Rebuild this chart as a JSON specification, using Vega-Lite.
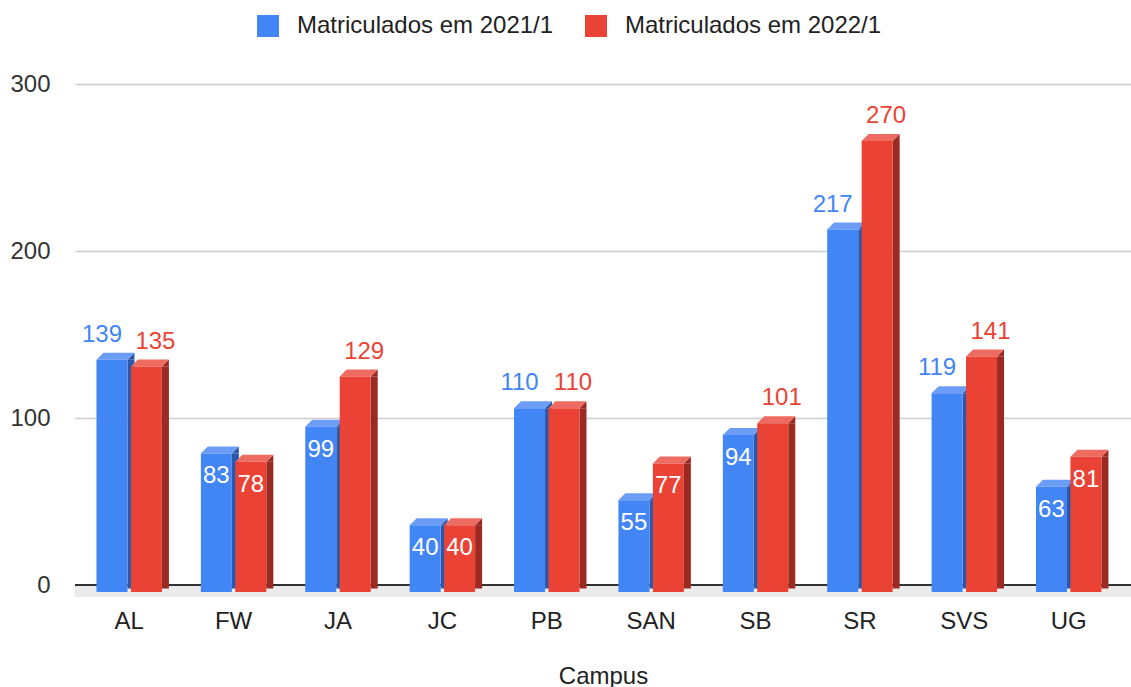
{
  "$schema": "https://vega.github.io/schema/vega-lite/v6.json",
  "width": 1056,
  "height": 501,
  "autosize": {"type": "none"},
  "padding": {"left": 75, "top": 84, "right": 0, "bottom": 102},
  "background": "white",
  "config": {
    "font": "Liberation Sans",
    "view": {"stroke": null},
    "axis": {"labelFont": "Liberation Sans", "titleFont": "Liberation Sans"},
    "legend": {"labelFont": "Liberation Sans"}
  },
  "data": {
    "values": [
      {"Campus": "AL", "series": "Matriculados em 2021/1", "value": 139},
      {"Campus": "AL", "series": "Matriculados em 2022/1", "value": 135},
      {"Campus": "FW", "series": "Matriculados em 2021/1", "value": 83},
      {"Campus": "FW", "series": "Matriculados em 2022/1", "value": 78},
      {"Campus": "JA", "series": "Matriculados em 2021/1", "value": 99},
      {"Campus": "JA", "series": "Matriculados em 2022/1", "value": 129},
      {"Campus": "JC", "series": "Matriculados em 2021/1", "value": 40},
      {"Campus": "JC", "series": "Matriculados em 2022/1", "value": 40},
      {"Campus": "PB", "series": "Matriculados em 2021/1", "value": 110},
      {"Campus": "PB", "series": "Matriculados em 2022/1", "value": 110},
      {"Campus": "SAN", "series": "Matriculados em 2021/1", "value": 55},
      {"Campus": "SAN", "series": "Matriculados em 2022/1", "value": 77},
      {"Campus": "SB", "series": "Matriculados em 2021/1", "value": 94},
      {"Campus": "SB", "series": "Matriculados em 2022/1", "value": 101},
      {"Campus": "SR", "series": "Matriculados em 2021/1", "value": 217},
      {"Campus": "SR", "series": "Matriculados em 2022/1", "value": 270},
      {"Campus": "SVS", "series": "Matriculados em 2021/1", "value": 119},
      {"Campus": "SVS", "series": "Matriculados em 2022/1", "value": 141},
      {"Campus": "UG", "series": "Matriculados em 2021/1", "value": 63},
      {"Campus": "UG", "series": "Matriculados em 2022/1", "value": 81}
    ]
  },
  "resolve": {"scale": {"xOffset": "independent"}},
  "encoding": {
    "x": {
      "field": "Campus",
      "type": "nominal",
      "sort": null,
      "scale": {"paddingInner": 0.34, "paddingOuter": 0.228, "align": 0.415},
      "axis": {
        "title": "Campus",
        "titleFontSize": 24,
        "titleFontWeight": "normal",
        "titleColor": "#222",
        "titleBaseline": "alphabetic",
        "titleY": 98,
        "labelFontSize": 24,
        "labelColor": "#222",
        "labelBaseline": "alphabetic",
        "labelPadding": 43,
        "labelAngle": 0,
        "domain": false,
        "ticks": false,
        "grid": false
      }
    },
    "y": {
      "field": "value",
      "type": "quantitative",
      "scale": {"domain": [0, 300], "nice": false},
      "axis": {
        "title": null,
        "values": [0, 100, 200, 300],
        "labelFontSize": 24,
        "labelColor": "#333",
        "labelPadding": 25,
        "domain": false,
        "ticks": false,
        "grid": true,
        "gridColor": "#cccccc",
        "gridWidth": 1.5
      }
    }
  },
  "layer": [
    {
      "mark": {"type": "rect", "color": "#ebebeb", "y2Offset": 12},
      "encoding": {"x": null, "y": {"datum": 0, "type": "quantitative"}, "y2": {"datum": 0}}
    },
    {
      "mark": {"type": "rule", "color": "#333333", "strokeWidth": 1.5},
      "encoding": {"x": null, "y": {"datum": 0, "type": "quantitative"}}
    },
    {
      "mark": {"type": "rule", "strokeWidth": 7, "strokeCap": "butt", "yOffset": 7, "y2Offset": 3.5},
      "encoding": {
        "xOffset": {"field": "series", "type": "nominal", "scale": {"domain": ["Matriculados em 2021/1", "Matriculados em 2022/1"], "paddingInner": 0, "paddingOuter": 0, "range": [19, 87.9]}},
        "y2": {"datum": 0},
        "color": {"condition": {"test": "datum.series == 'Matriculados em 2021/1'", "value": "#2b58aa"}, "value": "#9b2a22"}
      }
    },
    {
      "mark": {"type": "point", "shape": "M -1 1 L 1 -1 L 1 1 Z", "size": 49, "filled": true, "opacity": 1, "strokeWidth": 0, "yOffset": 3.5},
      "encoding": {
        "xOffset": {"field": "series", "type": "nominal", "scale": {"domain": ["Matriculados em 2021/1", "Matriculados em 2022/1"], "padding": 0, "range": [36.2, 70.65]}},
        "color": {"condition": {"test": "datum.series == 'Matriculados em 2021/1'", "value": "#2b58aa"}, "value": "#9b2a22"}
      }
    },
    {
      "mark": {"type": "point", "shape": "M -1 0.1842 L 0.6316 0.1842 L 1 -0.1842 L -0.6316 -0.1842 Z", "size": 1444, "filled": true, "opacity": 1, "strokeWidth": 0, "yOffset": 3.5},
      "encoding": {
        "xOffset": {"field": "series", "type": "nominal", "scale": {"domain": ["Matriculados em 2021/1", "Matriculados em 2022/1"], "padding": 0, "range": [20.7, 55.15]}},
        "color": {"condition": {"test": "datum.series == 'Matriculados em 2021/1'", "value": "#6b9cf6"}, "value": "#ee6b61"}
      }
    },
    {
      "mark": {"type": "bar", "width": 31, "yOffset": 7, "y2Offset": 7},
      "encoding": {
        "xOffset": {"field": "series", "type": "nominal", "scale": {"domain": ["Matriculados em 2021/1", "Matriculados em 2022/1"], "paddingInner": 0, "paddingOuter": 0, "range": [0, 68.9]}},
        "color": {
          "field": "series",
          "type": "nominal",
          "scale": {"domain": ["Matriculados em 2021/1", "Matriculados em 2022/1"], "range": ["#4285f4", "#ea4335"]},
          "legend": {
            "title": null,
            "orient": "none",
            "direction": "horizontal",
            "legendX": 181,
            "legendY": -70,
            "symbolType": "square",
            "symbolSize": 484,
            "symbolStrokeWidth": 0,
            "labelFontSize": 24,
            "labelColor": "#222",
            "labelOffset": 17,
            "labelLimit": 0,
            "columnPadding": 30
          }
        }
      }
    },
    {
      "transform": [{"filter": "datum.value >= 100 && datum.series == 'Matriculados em 2021/1'"}],
      "mark": {"type": "text", "fontSize": 24, "baseline": "alphabetic", "align": "center", "dx": -10, "dy": -11, "color": "#4285f4"},
      "encoding": {
        "xOffset": {"field": "series", "type": "nominal", "scale": {"domain": ["Matriculados em 2021/1", "Matriculados em 2022/1"], "padding": 0, "range": [17.2, 51.65]}},
        "text": {"field": "value", "type": "quantitative"}
      }
    },
    {
      "transform": [{"filter": "datum.value >= 100 && datum.series == 'Matriculados em 2022/1'"}],
      "mark": {"type": "text", "fontSize": 24, "baseline": "alphabetic", "align": "center", "dx": 9, "dy": -11, "color": "#ea4335"},
      "encoding": {
        "xOffset": {"field": "series", "type": "nominal", "scale": {"domain": ["Matriculados em 2021/1", "Matriculados em 2022/1"], "padding": 0, "range": [17.2, 51.65]}},
        "text": {"field": "value", "type": "quantitative"}
      }
    },
    {
      "transform": [{"filter": "datum.value < 100"}],
      "mark": {"type": "text", "fontSize": 24, "baseline": "alphabetic", "align": "center", "dx": 0, "dy": 37, "color": "white"},
      "encoding": {
        "xOffset": {"field": "series", "type": "nominal", "scale": {"domain": ["Matriculados em 2021/1", "Matriculados em 2022/1"], "padding": 0, "range": [17.2, 51.65]}},
        "text": {"field": "value", "type": "quantitative"}
      }
    }
  ]
}
